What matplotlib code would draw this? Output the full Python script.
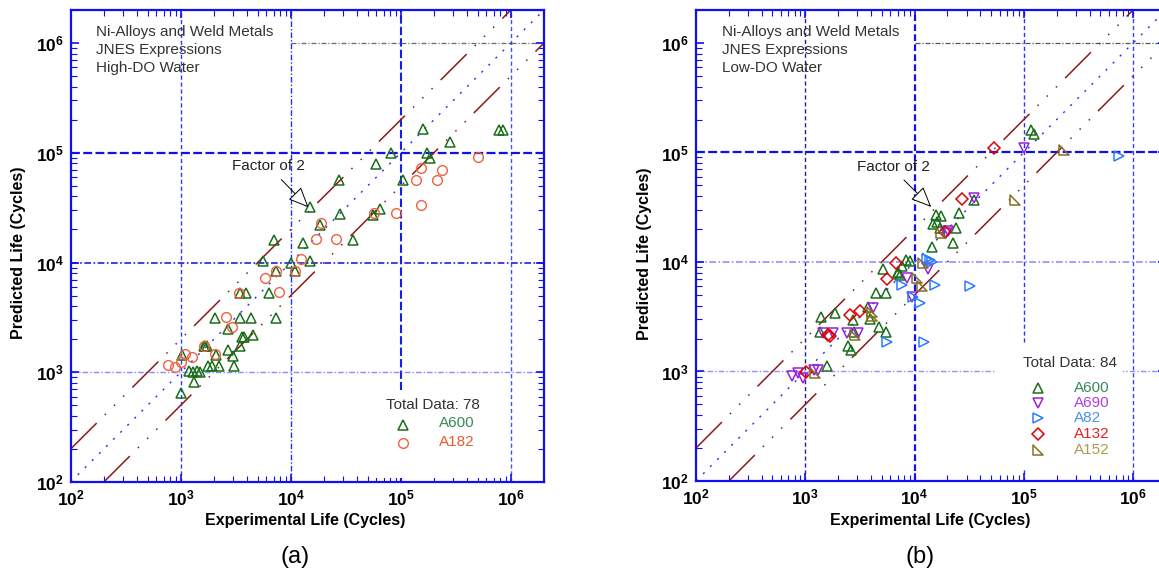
import numpy as np
import matplotlib
matplotlib.use('Agg')
import matplotlib.pyplot as plt
from matplotlib.path import Path
from matplotlib.patches import Rectangle
from matplotlib.ticker import FixedLocator, FuncFormatter, NullFormatter, LogLocator

plt.rcParams['font.family'] = ['Liberation Sans', 'DejaVu Sans']
plt.rcParams['mathtext.fontset'] = 'custom'
plt.rcParams['mathtext.rm'] = 'Liberation Sans:bold'
plt.rcParams['mathtext.bf'] = 'Liberation Sans:bold'
plt.rcParams['mathtext.it'] = 'Liberation Sans:bold'

# ---------------- data ----------------
axis_min, axis_max = 1e2, 2e6
major_ticks = [1e2, 1e3, 1e4, 1e5, 1e6]
grid_vals = [1e3, 1e4, 1e5, 1e6]
factor = 2

# panel (a): high-DO water
a600_hi_x = [1.60e5, 7.8e5, 8.4e5, 2.79e5, 8.1e4, 1.74e5, 1.85e5, 6.0e4, 2.72e4, 1.04e5,
             1.49e4, 2.78e4, 6.4e4, 5.6e4, 1.84e4, 3.68e4, 7.1e3, 1.30e4, 5.6e3, 1.01e4,
             1.49e4, 7.4e3, 1.10e4, 3.48e3, 3.95e3, 6.4e3, 2.06e3, 2.67e3, 3.48e3, 4.35e3,
             7.3e3, 3.78e3, 4.55e3, 1.61e3, 1.73e3, 2.10e3, 2.67e3, 3.44e3, 3.03e3, 1.77e3,
             1.92e3, 2.25e3, 1.18e3, 1.41e3, 1.33e3, 1.00e3, 1.03e3, 1.51e3, 3.0e3, 1.30e3,
             1.67e3, 3.6e3]
a600_hi_y = [1.64e5, 1.62e5, 1.62e5, 1.26e5, 1.0e5, 1.0e5, 9.0e4, 7.9e4, 5.7e4, 5.7e4,
             3.19e4, 2.74e4, 3.08e4, 2.72e4, 2.22e4, 1.62e4, 1.62e4, 1.51e4, 1.03e4, 9.9e3,
             1.03e4, 8.3e3, 8.3e3, 5.3e3, 5.3e3, 5.3e3, 3.13e3, 2.48e3, 3.13e3, 3.13e3,
             3.13e3, 2.1e3, 2.2e3, 1.72e3, 1.72e3, 1.45e3, 1.58e3, 1.72e3, 1.13e3, 1.15e3,
             1.13e3, 1.13e3, 1.02e3, 1.02e3, 8.1e2, 6.5e2, 1.45e3, 1.01e3, 1.4e3, 1.0e3,
             1.75e3, 2.1e3]
a182_x = [5.0e5, 1.51e5, 1.36e5, 2.11e5, 2.38e5, 1.54e5, 9.1e4, 5.7e4, 2.55e4, 1.70e4,
          1.90e4, 1.24e4, 1.10e4, 7.4e3, 5.8e3, 3.41e3, 7.8e3, 2.6e3, 2.93e3, 2.05e3,
          1.64e3, 1.26e3, 1.10e3, 7.6e2, 8.9e2, 1.01e3]
a182_y = [9.1e4, 7.2e4, 5.7e4, 5.7e4, 6.9e4, 3.34e4, 2.8e4, 2.8e4, 1.63e4, 1.63e4,
          2.27e4, 1.07e4, 8.3e3, 8.3e3, 7.3e3, 5.3e3, 5.35e3, 3.2e3, 2.6e3, 1.47e3,
          1.75e3, 1.39e3, 1.48e3, 1.17e3, 1.11e3, 1.25e3]

# panel (b): low-DO water
a600_lo_x = [1.56e4, 1.75e4, 1.49e4, 2.57e4, 2.4e4, 2.24e4, 1.44e4, 1.71e4, 5.1e3, 7.0e3,
             7.4e3, 8.4e3, 9.0e3, 7.6e3, 4.45e3, 5.5e3, 1.39e3, 1.87e3, 1.35e3, 2.48e3,
             2.6e3, 3.92e3, 3.78e3, 4.77e3, 5.5e3, 2.72e3, 2.8e3, 1.59e3, 1.17e5, 1.24e5,
             3.5e4, 1.6e4, 7.1e3]
a600_lo_y = [2.69e4, 2.63e4, 2.22e4, 2.79e4, 2.03e4, 1.48e4, 1.36e4, 2.04e4, 8.6e3, 7.9e3,
             7.6e3, 1.04e4, 1.03e4, 9.2e3, 5.2e3, 5.25e3, 3.16e3, 3.44e3, 2.3e3, 1.71e3,
             1.57e3, 3.0e3, 3.9e3, 2.53e3, 2.3e3, 2.95e3, 2.3e3, 1.12e3, 1.6e5, 1.48e5,
             3.7e4, 2.3e4, 8.1e3]
a690_x = [1.0e5, 3.53e4, 2.04e4, 1.34e4, 8.6e3, 9.4e3, 4.2e3, 1.81e3, 1.46e3, 2.39e3,
          3.06e3, 7.5e2, 8.6e2, 9.6e2, 1.19e3, 1.32e3, 1.95e4]
a690_y = [1.11e5, 3.82e4, 1.93e4, 8.6e3, 7.1e3, 4.8e3, 3.8e3, 2.23e3, 2.23e3, 2.23e3,
          2.23e3, 9.1e2, 9.6e2, 8.7e2, 1.03e3, 1.03e3, 1.85e4]
a82_x = [7.5e5, 3.2e4, 1.39e4, 1.3e4, 1.54e4, 7.6e3, 1.12e4, 9.7e3, 5.6e3, 1.23e4, 1.45e4]
a82_y = [9.3e4, 6.0e3, 1.04e4, 1.06e4, 6.2e3, 6.2e3, 4.2e3, 4.8e3, 1.85e3, 1.85e3, 1.0e4]
a132_x = [5.3e4, 2.7e4, 1.91e4, 6.8e3, 5.6e3, 2.57e3, 3.17e3, 1.63e3, 1.02e3, 1.7e3]
a132_y = [1.09e5, 3.74e4, 1.89e4, 9.7e3, 7.0e3, 3.28e3, 3.57e3, 2.15e3, 9.96e2, 2.1e3]
a152_x = [2.32e5, 8.3e4, 1.75e4, 1.19e4, 1.05e4, 1.16e4, 4.05e3, 4.05e3, 2.85e3, 1.23e3]
a152_y = [1.06e5, 3.69e4, 1.83e4, 9.7e3, 7.1e3, 6.0e3, 3.5e3, 3.2e3, 2.15e3, 9.6e2]

# ---------------- figure ----------------
W, H = 1159, 575
fig = plt.figure(figsize=(W / 100, H / 100), dpi=100)


def px_axes(l, t, r, b):
    return fig.add_axes([l / W, 1 - b / H, (r - l) / W, (b - t) / H])


axA = px_axes(70.7, 10, 544, 482)
axB = px_axes(696, 10, 1166, 481)

SPINE = '#1010ee'
tri_ll = Path([(-1, 1), (-1, -1), (1, -1), (-1, 1)],
              [Path.MOVETO, Path.LINETO, Path.LINETO, Path.CLOSEPOLY])


def setup(ax):
    ax.set_xscale('log')
    ax.set_yscale('log')
    ax.set_xlim(axis_min, axis_max)
    ax.set_ylim(axis_min, axis_max)
    fmt = FuncFormatter(lambda v, p: r'$\mathbf{10^{%d}}$' % int(round(np.log10(v))))
    for axis in (ax.xaxis, ax.yaxis):
        axis.set_major_locator(FixedLocator(major_ticks))
        axis.set_major_formatter(fmt)
        axis.set_minor_locator(LogLocator(base=10, subs=np.arange(2, 10), numticks=20))
        axis.set_minor_formatter(NullFormatter())
    ax.tick_params(which='both', direction='in', top=True, right=True, color=SPINE,
                   labelcolor='black', labelsize=12.5)
    ax.tick_params(which='major', length=6, width=1.2, pad=5)
    ax.tick_params(which='minor', length=4, width=0.8)
    for s in ax.spines.values():
        s.set_color(SPINE)
        s.set_linewidth(1.6)
        s.set_zorder(6)
    # reference lines
    xl = np.array([axis_min, axis_max])
    ax.plot(xl, xl, color='#2a2aff', lw=1.0, dashes=(1.5, 5.7), zorder=3)
    ax.plot(xl, xl * factor, color='#8b1a1a', lw=1.1,
            dashes=(24, 7.5, 1, 7.5, 1, 7.5, 1, 7.5), zorder=3)
    xl2 = np.array([axis_min * factor, axis_max])
    ax.plot(xl2, xl2 / factor, color='#8b1a1a', lw=1.1,
            dashes=(24, 7.5, 1, 7.5, 1, 7.5, 1, 7.5), zorder=3)


def grid(ax, vstyles, hstyles):
    for v, (c, lw, d) in zip(grid_vals, vstyles):
        ax.vlines(v, axis_min, axis_max, colors=c, linewidths=lw, linestyles=[(0, d)], zorder=1)
    for v, (c, lw, d) in zip(grid_vals, hstyles):
        x0 = 1e4 if v == 1e6 else axis_min
        ax.hlines(v, x0, axis_max, colors=c, linewidths=lw, linestyles=[(0, d)], zorder=1)


dd = (3, 2)
dashdot = (4, 1.5, 1, 1.5)
grid(axA,
     [('#2a3aff', 1.0, dd), ('#2030ff', 1.0, dashdot), ('#1020ee', 1.5, (4, 1.5)), ('#4050ff', 1.0, dd)],
     [('#8a8aff', 1.0, dashdot), ('#2020e0', 1.2, dashdot), ('#1010ee', 1.6, (4, 1.5)), ('#666677', 0.9, dashdot)])
grid(axB,
     [('#202090', 1.0, dd), ('#1010ee', 1.6, (3, 1.5)), ('#3030ff', 1.0, dd), ('#4040ff', 1.0, dd)],
     [('#9090ff', 1.0, dashdot), ('#9090ff', 1.2, dashdot), ('#1010ee', 1.6, (4, 1.5)), ('#555566', 0.9, dashdot)])

for ax in (axA, axB):
    setup(ax)

TRI = 7.8
# ---- panel (a) points
mk = dict(ls='none', mfc='none', zorder=4)
axA.plot(a600_hi_x, a600_hi_y, marker='^', ms=TRI, mec='#1a6e1a', mew=1.1, **mk)
axA.plot(a182_x, a182_y, marker='o', ms=7.0, mec='#f06040', mew=1.0, **mk)

# ---- panel (b) points
axB.plot(a600_lo_x, a600_lo_y, marker='^', ms=TRI, mec='#1a6e1a', mew=1.1, **mk)
axB.plot(a690_x, a690_y, marker='v', ms=TRI, mec='#9a20d8', mew=1.1, **mk)
axB.plot(a82_x, a82_y, marker='>', ms=TRI, mec='#2a7aff', mew=1.1, **mk)
axB.plot(a132_x, a132_y, marker='D', ms=6.3, mec='#e00000', mew=1.1, **mk)
axB.plot(a152_x, a152_y, marker=tri_ll, ms=7.3, mec='#857020', mew=1.1, **mk)

# ---- annotation text (pixel rows of the three lines)
note_rows = [32.2, 50.4, 68.3]
for left_px, cond in ((96.5, 'High-DO Water'), (722, 'Low-DO Water')):
    for txt, ypx in zip(['Ni-Alloys and Weld Metals', 'JNES Expressions', cond], note_rows):
        fig.text(left_px / W, 1 - ypx / H, txt, ha='left', va='center', fontsize=11,
                 color='#333333', zorder=5)

arrow_kw = dict(arrowstyle='-|>,head_length=0.8,head_width=0.35', fc='white',
                ec='black', lw=0.7, mutation_scale=16, shrinkA=0, shrinkB=0)
axA.annotate('', xy=(1.45e4, 3.18e4), xytext=(8.2e3, 5.7e4), arrowprops=arrow_kw, zorder=5)
axA.text(6.3e3, 7.5e4, 'Factor of 2', ha='center', va='center', fontsize=11, color='#222222', zorder=5)
axB.annotate('', xy=(1.42e4, 3.18e4), xytext=(8.0e3, 5.6e4), arrowprops=arrow_kw, zorder=5)
axB.text(6.4e3, 7.4e4, 'Factor of 2', ha='center', va='center', fontsize=11, color='#222222', zorder=5)

# ---- legends
axA.add_patch(Rectangle((0.643, 0.008), 0.275, 0.187, transform=axA.transAxes,
                        fc='white', ec='none', zorder=2))
axA.text(0.7655, 0.163, 'Total Data: 78', transform=axA.transAxes, ha='center', va='center',
         fontsize=11, color='#333333', zorder=5)
axA.plot([0.7027], [0.1208], transform=axA.transAxes, marker='^', ms=TRI, mec='#1a6e1a', mew=1.1, **mk)
axA.plot([0.7027], [0.082], transform=axA.transAxes, marker='o', ms=7.0, mec='#f06040', mew=1.0, **mk)
axA.text(0.7788, 0.1244, 'A600', transform=axA.transAxes, ha='left', va='center',
         fontsize=11, color='#3a8a50', zorder=5)
axA.text(0.7788, 0.0841, 'A182', transform=axA.transAxes, ha='left', va='center',
         fontsize=11, color='#e85a30', zorder=5)

axB.add_patch(Rectangle((0.636, 0.028), 0.273, 0.261, transform=axB.transAxes,
                        fc='white', ec='none', zorder=2))
axB.text(0.7968, 0.250, 'Total Data: 84', transform=axB.transAxes, ha='center', va='center',
         fontsize=11, color='#333333', zorder=5)
leg_rows = [0.1968, 0.1662, 0.1331, 0.0998, 0.0658]
leg_items = [('^', TRI, '#1a6e1a', 'A600', '#3a8a5a'),
             ('v', TRI, '#9a20d8', 'A690', '#b040e0'),
             ('>', TRI, '#2a7aff', 'A82', '#4a90f0'),
             ('D', 6.3, '#e00000', 'A132', '#e82020'),
             (tri_ll, 7.3, '#857020', 'A152', '#b09a50')]
for yy, (m, s, mc, lab, tc) in zip(leg_rows, leg_items):
    axB.plot([0.7283], [yy], transform=axB.transAxes, marker=m, ms=s, mec=mc, mew=1.1, **mk)
    axB.text(0.8043, yy, lab, transform=axB.transAxes, ha='left', va='center',
             fontsize=11, color=tc, zorder=5)

# ---- axis labels and captions
lab_kw = dict(ha='center', va='center', fontsize=11.5, fontweight='bold')
fig.text(305 / W, 1 - 521 / H, 'Experimental Life (Cycles)', **lab_kw)
fig.text(930 / W, 1 - 521 / H, 'Experimental Life (Cycles)', **lab_kw)
fig.text(19 / W, 1 - 253 / H, 'Predicted Life (Cycles)', rotation=90, **lab_kw)
fig.text(644 / W, 1 - 254 / H, 'Predicted Life (Cycles)', rotation=90, **lab_kw)
fig.text(295 / W, 1 - 557 / H, '(a)', ha='center', va='center', fontsize=17)
fig.text(920 / W, 1 - 557 / H, '(b)', ha='center', va='center', fontsize=17)

fig.savefig('out.png', dpi=100)
